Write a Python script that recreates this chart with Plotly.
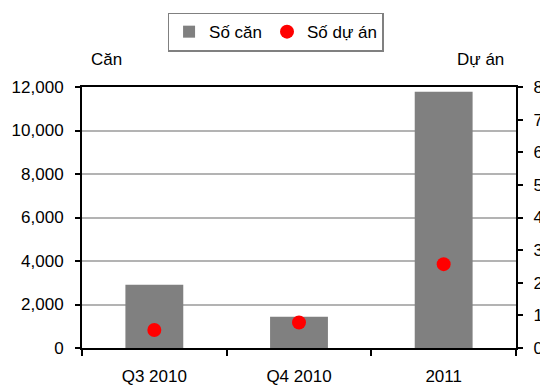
import plotly.graph_objects as go

# Housing supply by period: number of units (left axis) and projects (right axis)
periods = ["Q3 2010", "Q4 2010", "2011"]
units = [2910, 1440, 11780]
projects = [0.55, 0.78, 2.57]

left_ticks = [0, 2000, 4000, 6000, 8000, 10000, 12000]
right_ticks = [0, 1, 2, 3, 4, 5, 6, 7, 8]

FONT = "Liberation Sans, Arial, sans-serif"
FS = 17

fig = go.Figure()
fig.add_trace(go.Bar(
    x=periods, y=units, name="Số căn",
    marker=dict(color="#808080", line=dict(width=0)),
    yaxis="y",
))
fig.add_trace(go.Scatter(
    x=periods, y=projects, name="Số dự án", mode="markers",
    marker=dict(color="#ff0000", size=14, symbol="circle"),
    yaxis="y2",
))

fig.update_layout(
    width=540, height=389,
    margin=dict(l=82, r=24, t=80, b=41),
    paper_bgcolor="white", plot_bgcolor="white",
    font=dict(family=FONT, size=FS, color="black"),
    bargap=0.6,
    showlegend=True,
    legend=dict(
        orientation="h", x=0.446, xref="paper", xanchor="center",
        y=1.285, yanchor="top",
        bordercolor="#808080", borderwidth=1.5, bgcolor="white",
        font=dict(size=FS), itemwidth=30, tracegroupgap=0,
    ),
    xaxis=dict(
        type="category", showline=True, linecolor="black", linewidth=2,
        mirror=True, ticks="outside", tickson="boundaries", ticklen=6,
        tickcolor="black", tickwidth=1.5, showgrid=False,
        tickfont=dict(size=FS), ticklabelstandoff=12, automargin=False,
    ),
    yaxis=dict(
        range=[0, 12000], tickvals=left_ticks, tickformat=",d",
        showline=True, linecolor="black", linewidth=2,
        ticks="outside", ticklen=5, tickcolor="black", tickwidth=1.5,
        showgrid=True, gridcolor="#b3b3b3", gridwidth=1.5,
        zeroline=False, tickfont=dict(size=FS), ticklabelstandoff=8,
        automargin=False,
    ),
    yaxis2=dict(
        range=[0, 8], tickvals=right_ticks, overlaying="y", side="right",
        showline=True, linecolor="black", linewidth=2,
        ticks="outside", ticklen=5, tickcolor="black", tickwidth=1.5,
        showgrid=False, zeroline=False, tickfont=dict(size=FS),
        ticklabelstandoff=7, automargin=False,
    ),
    annotations=[
        dict(text="Căn", x=89, y=52, xref="paper", yref="paper",
             showarrow=False, font=dict(size=FS), xanchor="left", yanchor="middle"),
        dict(text="Dự án", x=506, y=52, xref="paper", yref="paper",
             showarrow=False, font=dict(size=FS), xanchor="right", yanchor="middle"),
    ],
)

# Place the axis captions in pixel coordinates of the page
plot_w = 540 - 82 - 24
plot_h = 389 - 80 - 41
for ann in fig.layout.annotations:
    px, py = ann.x, ann.y
    ann.x = (px - 82) / plot_w
    ann.y = (389 - 41 - py) / plot_h

fig.write_html("out.html")
